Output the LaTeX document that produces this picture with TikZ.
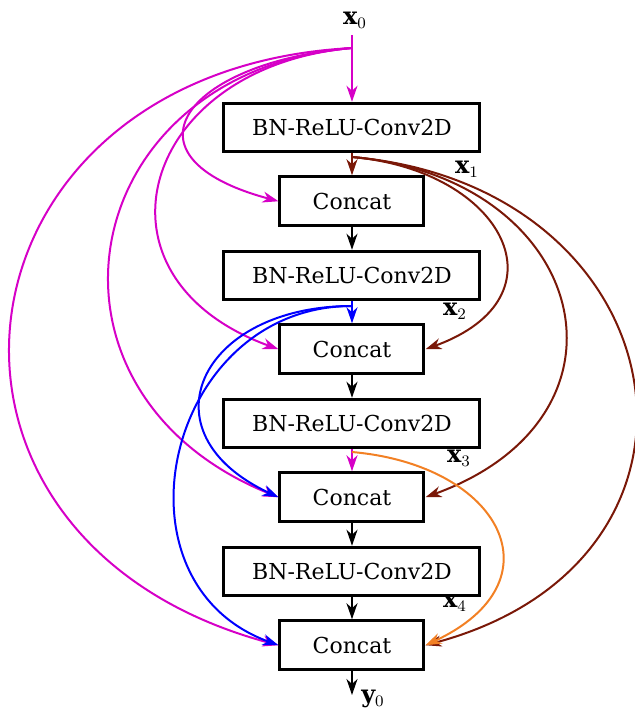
\documentclass[tikz,border=0pt]{standalone}
\usepackage{fontspec}
\setmainfont{DejaVu Serif}
\usetikzlibrary{matrix,arrows.meta}
\definecolor{xzero}{RGB}{214,0,199}
\definecolor{xone}{RGB}{122,24,8}
\definecolor{xtwo}{RGB}{0,0,255}
\definecolor{xthree}{RGB}{242,128,36}
\tikzset{
  layer/.style={draw,line width=1.5pt,minimum width=128pt,minimum height=24pt,inner sep=0pt},
  conc/.style={layer,minimum width=72pt,minimum height=24.5pt},
  skip/.style={-{Stealth[length=8pt,width=5.5pt,inset=2.5pt]},line width=1pt},
}

\begin{document}
\begin{tikzpicture}[x=0.5pt,y=-0.5pt,font=\fontsize{11}{13}\selectfont]
\useasboundingbox (0,0) rectangle (635,709);
\matrix (m) [matrix of nodes,row sep=11.25pt,nodes={layer}] at (352,386.5)
  {
     BN-ReLU-Conv2D \\
     |[conc]| Concat \\
     BN-ReLU-Conv2D \\
     |[conc]| Concat \\
     BN-ReLU-Conv2D \\
     |[conc]| Concat \\
     BN-ReLU-Conv2D \\
     |[conc]| Concat \\
  };
  \node (x0) at (355,20) {\large$\mathbf{x}_0$};
  \node (lx1) at (467,169) {\large$\mathbf{x}_1$};
  \node (lx2) at (455,311) {\large$\mathbf{x}_2$};
  \node (lx3) at (459,458) {\large$\mathbf{x}_3$};
  \node (lx4) at (455,603) {\large$\mathbf{x}_4$};
  \node (y0) at (373,699) {\large$\mathbf{y}_0$};
  \coordinate (b0) at (352,48);
  \coordinate (b1) at (352,157);
  \coordinate (b2) at (352,306);
  \coordinate (b3) at (352,452);
  \coordinate (yend) at (352,695);
  % main chain
  \path[skip,xzero] (x0.south -| m-1-1.north) edge (m-1-1);
  \path[skip,xone] (m-1-1) edge (m-2-1);
  \path[skip,xtwo] (m-3-1) edge (m-4-1);
  \path[skip,xzero] (m-5-1) edge (m-6-1);
  \path[skip] (m-2-1) edge (m-3-1)
    (m-4-1) edge (m-5-1)
    (m-6-1) edge (m-7-1)
    (m-7-1) edge (m-8-1)
    (m-8-1) edge (yend);
  % dense skips
  \path[skip,xzero] (b0) [out=185,in=165,looseness=2.55] edge (m-2-1.west)
    (b0) [out=185,in=160,looseness=1.75] edge (m-4-1.west)
    (b0) [out=185,in=158,looseness=1.58] edge (m-6-1.west)
    (b0) [out=183,in=165,looseness=1.75] edge (m-8-1.west);
  \path[skip,xone] (b1) [out=-5,in=20,looseness=1.9] edge (m-4-1.east)
    (b1) [out=-5,in=20,looseness=1.75] edge (m-6-1.east)
    (b1) [out=-5,in=15,looseness=1.72] edge (m-8-1.east);
  \path[skip,xtwo] (b2) [out=180,in=155,looseness=1.9] edge (m-6-1.west)
    (b2) [out=180,in=160,looseness=1.37] edge (m-8-1.west);
  \path[skip,xthree] (b3) [out=-5,in=25,looseness=1.86] edge (m-8-1.east);
\end{tikzpicture}
\end{document}
